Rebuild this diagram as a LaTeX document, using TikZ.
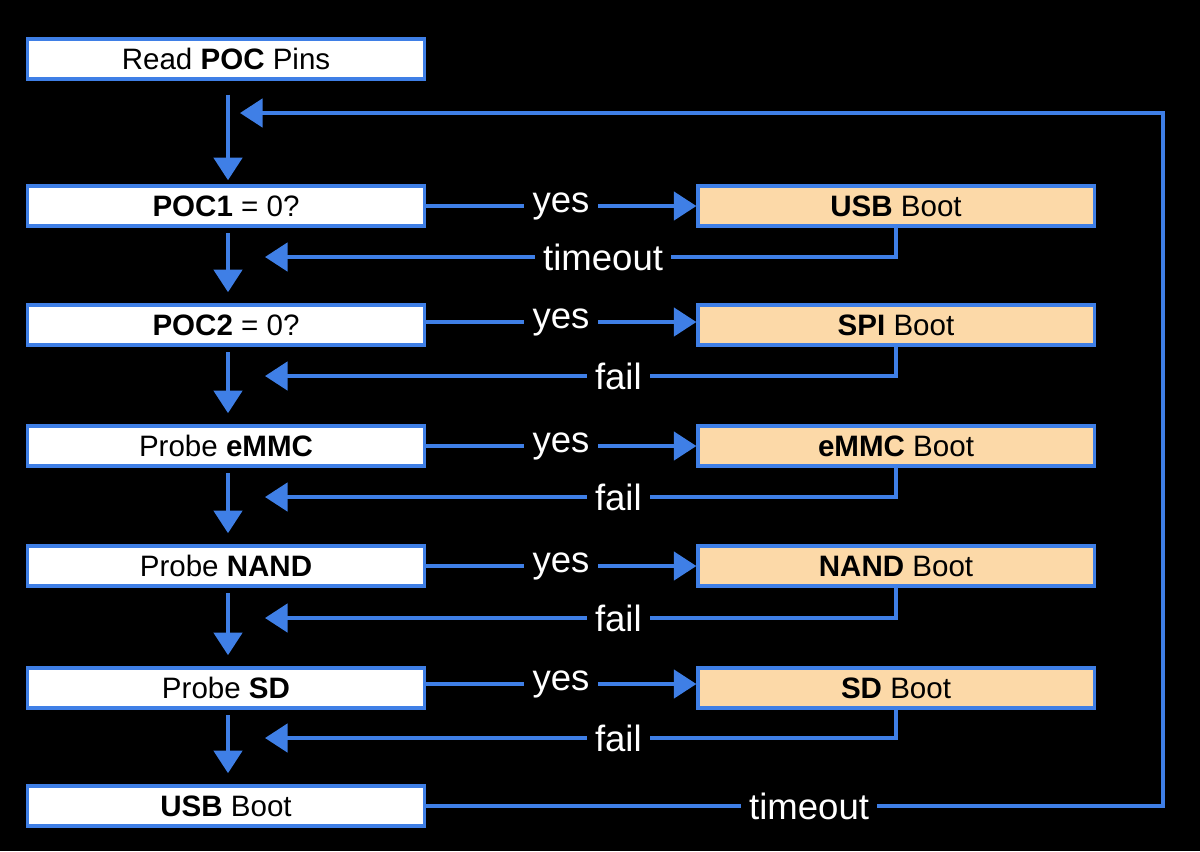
\documentclass[tikz,border=0pt]{standalone}
\usepackage{fontspec}
\setmainfont{Liberation Sans}
\usetikzlibrary{arrows.meta}
\definecolor{cblue}{HTML}{3F7FE6}
\definecolor{corange}{HTML}{FCD9A8}
\tikzset{
  box/.style={draw=cblue, line width=2.2pt, fill=white, minimum width=9.9cm, minimum height=1cm, inner sep=0pt, font=\fontsize{21}{22}\selectfont},
  boot/.style={box, fill=corange},
  flow/.style={cblue, line width=2.8pt, -{Triangle[length=16pt, width=20pt]}},
  line/.style={cblue, line width=2.8pt},
  lbl/.style={fill=black, text=white, inner xsep=6pt, font=\fontsize{26}{27}\selectfont}
}
\begin{document}
\begin{tikzpicture}[x=0.025cm, y=-0.025cm]
    \fill[black] (0,0) rectangle (1200,851);
    \node[box] (read) at (226,59) {Read \textbf{POC} Pins};
    \node[box] (poca) at (226,206) {\textbf{POC1} = 0?};
    \node[box] (pocb) at (226,325) {\textbf{POC2} = 0?};
    \node[box] (emmc) at (226,446) {Probe \textbf{eMMC}};
    \node[box] (nand) at (226,566) {Probe \textbf{NAND}};
    \node[box] (sd)   at (226,688) {Probe \textbf{SD}};
    \node[box] (usb)  at (226,806) {\textbf{USB} Boot};
    \node[boot] (usbR)  at (896,206) {\textbf{USB} Boot};
    \node[boot] (spiR)  at (896,325) {\textbf{SPI} Boot};
    \node[boot] (emmcR) at (896,446) {\textbf{eMMC} Boot};
    \node[boot] (nandR) at (896,566) {\textbf{NAND} Boot};
    \node[boot] (sdR)   at (896,688) {\textbf{SD} Boot};
    % down arrows
    \draw[flow, shorten <=10pt, shorten >=3pt] (read.south -| 228,0) -- (poca.north -| 228,0);
    \foreach \a/\b in {poca/pocb, pocb/emmc, emmc/nand, nand/sd, sd/usb}
        \draw[flow, shorten <=4pt, shorten >=8pt] (\a.south -| 228,0) -- (\b.north -| 228,0);
    % yes arrows
    \foreach \a/\b/\y in {poca/usbR/206, pocb/spiR/322, emmc/emmcR/446, nand/nandR/566, sd/sdR/684}
        \draw[flow] (\a.east |- 0,\y) -- node[lbl] {yes} (\b.west |- 0,\y);
    % back arrows
    \coordinate (ba) at (265,257);
    \coordinate (bb) at (265,376);
    \coordinate (bc) at (265,497);
    \coordinate (bd) at (265,618);
    \coordinate (be) at (265,738);
    \draw[line] (usbR.south) |- (610,257);
    \draw[flow] (610,257) -- node[lbl, pos=0.02] {timeout} (ba);
    \foreach \r/\c/\y in {spiR/bb/376, emmcR/bc/497, nandR/bd/618, sdR/be/738}
        \draw[flow] (\r.south) |- node[lbl, pos=0.72] {fail} (\c);
    % loop back to top
    \coordinate (top) at (240,113);
    \draw[flow] (usb.east) -- node[lbl, pos=0.52] {timeout} (1163,806) |- (top);
\end{tikzpicture}
\end{document}
